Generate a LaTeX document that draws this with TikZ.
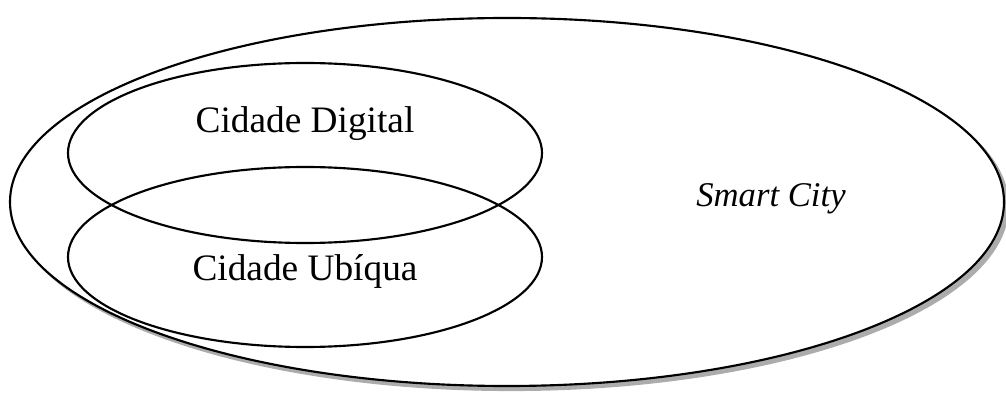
\documentclass[tikz,border=0pt]{standalone}
\usepackage{fontspec}
\setmainfont{Liberation Serif}
\usetikzlibrary{shapes.geometric}
\begin{document}
\begin{tikzpicture}[x=0.75pt,y=-0.75pt,
  ring/.style={ellipse,draw=black,line width=1.6pt,inner sep=0pt},
  lbl/.style={font=\fontsize{28}{32}\selectfont,inner sep=0pt}]
\useasboundingbox (0,0) rectangle (1006,402);
\node[ring,draw=gray!65,fill=gray!65,minimum width=994*0.75pt,minimum height=368*0.75pt] (shadow) at (511,206) {};
\node[ring,fill=white,minimum width=994*0.75pt,minimum height=368*0.75pt] (smart) at (507,202) {};
\node[ring,minimum width=474*0.75pt,minimum height=180*0.75pt] (digital) at (305,153) {};
\node[ring,minimum width=474*0.75pt,minimum height=180*0.75pt] (ubiqua) at (305,257) {};
\node[lbl] (tdig) at (305,124) {Cidade Digital};
\node[lbl] (tubi) at (305,271) {Cidade Ubíqua};
\node[lbl,font=\fontsize{26}{30}\selectfont\itshape] (tsmart) at (771,199) {Smart City};
\end{tikzpicture}
\end{document}
